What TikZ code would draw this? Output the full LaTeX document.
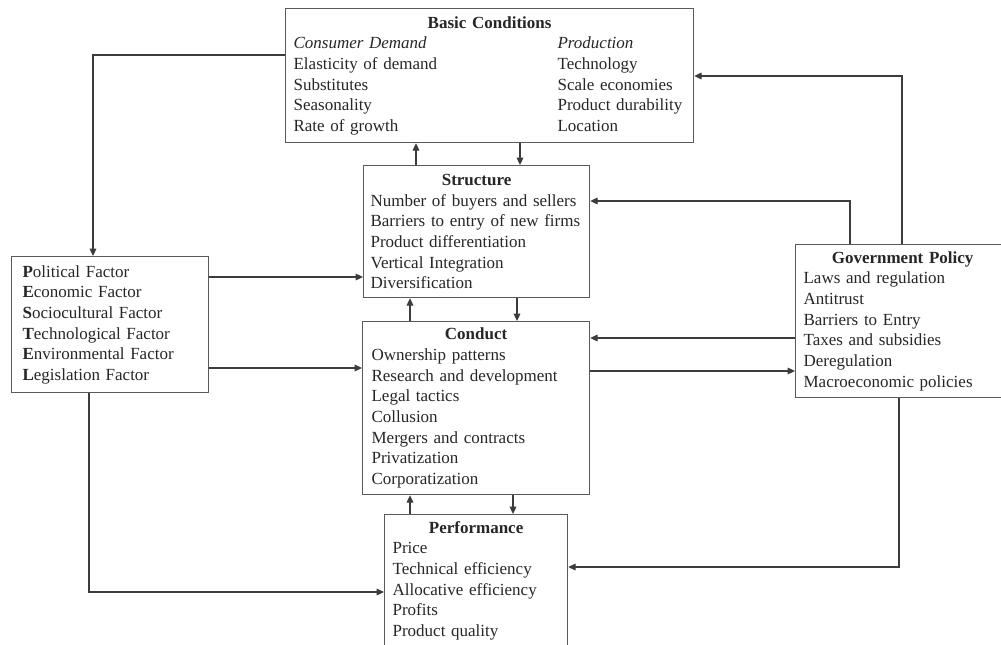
\documentclass[tikz,border=0pt]{standalone}
\usepackage{fontspec}
\setmainfont{Liberation Serif}
\usetikzlibrary{arrows.meta}
\newdimen\pxu \pxu=0.75pt
\definecolor{boxgray}{HTML}{5A5A5A}
\definecolor{linegray}{HTML}{3C3C3C}
\begin{document}
\begin{tikzpicture}[x=0.75pt,y=-0.75pt,
  box/.style={draw=boxgray, line width=0.9pt, rectangle, anchor=north west,
    align=left, inner ysep=0pt, text=black!85,
    font=\fontsize{12.75}{15.5}\selectfont},
  link/.style={draw=linegray, line width=0.8pt},
  arr/.style={link, -{Triangle[length=5.5pt,width=5pt]}}]
\useasboundingbox (0,0) rectangle (1001,644);

% boxes
\node[box, minimum width=408\pxu, minimum height=134\pxu, text width=392\pxu,
  inner xsep=8\pxu] (basic) at (285,8) {%
  \makebox[\linewidth]{\textbf{Basic Conditions}}\\
  \makebox[264\pxu][l]{\textit{Consumer Demand}}\textit{Production}\\
  \makebox[264\pxu][l]{Elasticity of demand}Technology\\
  \makebox[264\pxu][l]{Substitutes}Scale economies\\
  \makebox[264\pxu][l]{Seasonality}Product durability\\
  \makebox[264\pxu][l]{Rate of growth}Location};

\node[box, minimum width=226\pxu, minimum height=132\pxu, text width=212\pxu,
  inner xsep=7\pxu] (struct) at (363,165) {%
  \makebox[\linewidth]{\textbf{Structure}}\\
  Number of buyers and sellers\\
  Barriers to entry of new firms\\
  Product differentiation\\
  Vertical Integration\\
  Diversification};

\node[box, minimum width=227\pxu, minimum height=173\pxu, text width=209\pxu,
  inner xsep=9\pxu] (conduct) at (362,321) {%
  \makebox[\linewidth]{\textbf{Conduct}}\\
  Ownership patterns\\
  Research and development\\
  Legal tactics\\
  Collusion\\
  Mergers and contracts\\
  Privatization\\
  Corporatization};

\node[box, minimum width=183\pxu, minimum height=132\pxu, text width=167\pxu,
  inner xsep=8\pxu] (perf) at (384,514) {%
  \makebox[\linewidth]{\textbf{Performance}}\\
  Price\\
  Technical efficiency\\
  Allocative efficiency\\
  Profits\\
  Product quality};

\node[box, minimum width=214\pxu, minimum height=153\pxu, text width=198\pxu,
  inner xsep=8\pxu] (gov) at (795,244) {%
  \makebox[\linewidth]{\textbf{Government Policy}}\\
  Laws and regulation\\
  Antitrust\\
  Barriers to Entry\\
  Taxes and subsidies\\
  Deregulation\\
  Macroeconomic policies};

\node[box, minimum width=197\pxu, minimum height=136\pxu, text width=175\pxu,
  inner xsep=11\pxu] (pest) at (11,256) {%
  \textbf{P}olitical Factor\\
  \textbf{E}conomic Factor\\
  \textbf{S}ociocultural Factor\\
  \textbf{T}echnological Factor\\
  \textbf{E}nvironmental Factor\\
  \textbf{L}egislation Factor};

% connectors
\draw[arr] (basic.west |- 0,55) -| (pest.north -| 93,0);
\draw[arr] (struct.north -| 416,0) -- (basic.south -| 416,0);
\draw[arr] (basic.south -| 520,0) -- (struct.north -| 520,0);
\draw[arr] (conduct.north -| 410,0) -- (struct.south -| 410,0);
\draw[arr] (struct.south -| 517,0) -- (conduct.north -| 517,0);
\draw[arr] (perf.north -| 410,0) -- (conduct.south -| 410,0);
\draw[arr] (conduct.south -| 513,0) -- (perf.north -| 513,0);
\draw[arr] (pest.east |- 0,277) -- (struct.west |- 0,277);
\draw[arr] (pest.east |- 0,368) -- (conduct.west |- 0,368);
\draw[arr] (pest.south -| 89,0) |- (perf.west |- 0,592);
\draw[arr] (gov.north -| 850,0) |- (struct.east |- 0,201);
\draw[arr] (gov.north -| 902,0) |- (basic.east |- 0,76);
\draw[arr] (gov.west |- 0,338) -- (conduct.east |- 0,338);
\draw[arr] (conduct.east |- 0,371) -- (gov.west |- 0,371);
\draw[arr] (gov.south -| 899,0) |- (perf.east |- 0,567);
\end{tikzpicture}
\end{document}
